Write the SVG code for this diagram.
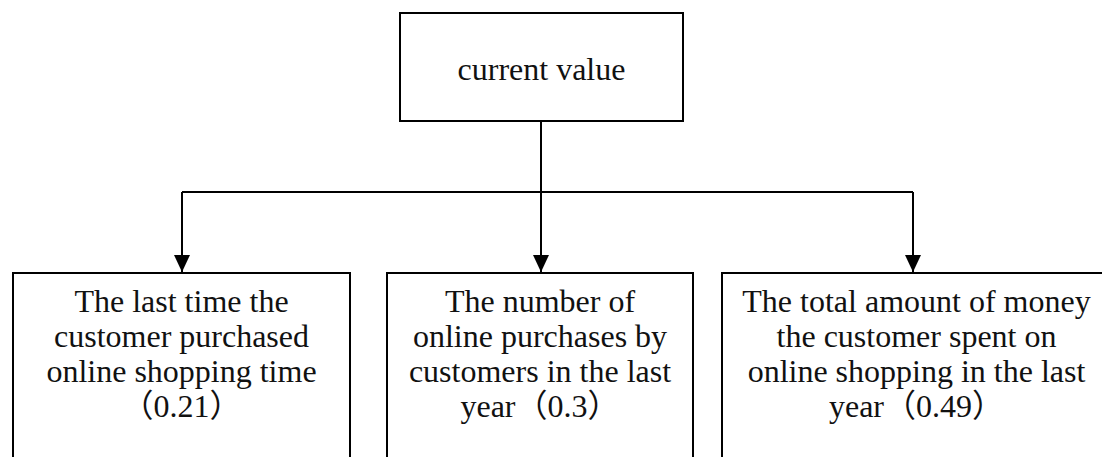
<svg xmlns="http://www.w3.org/2000/svg" width="1102" height="457" viewBox="0 0 1102 457">
<style>
.box{fill:#fff;stroke:#000;stroke-width:2}
.lbl{font-family:"Liberation Serif","Noto Sans CJK SC",serif;font-size:32px;fill:#111;text-anchor:middle}
.conn{fill:none;stroke:#000;stroke-width:2}
</style>
<defs>
<marker id="arr" markerUnits="userSpaceOnUse" viewBox="0 0 17 16" refX="17" refY="8" markerWidth="17" markerHeight="16" orient="auto">
<path d="M0,0 L17,8 L0,16 z" fill="#000"/>
</marker>
</defs>
<rect width="1102" height="457" fill="#fff"/>
<g id="connectors">
<path class="conn" d="M541,121 V192"/>
<path class="conn" d="M182,192 H913"/>
<path class="conn" d="M182,192 V272" marker-end="url(#arr)"/>
<path class="conn" d="M541,192 V272" marker-end="url(#arr)"/>
<path class="conn" d="M913,192 V272" marker-end="url(#arr)"/>
</g>
<g id="node-current-value">
<rect class="box" x="400" y="13" width="283" height="108"/>
<text class="lbl" x="541.5" y="80">current value</text>
</g>
<g id="node-recency">
<rect class="box" x="13" y="273" width="337" height="220"/>
<text class="lbl" x="181.5" y="312">The last time the</text>
<text class="lbl" x="181.5" y="347">customer purchased</text>
<text class="lbl" x="181.5" y="382">online shopping time</text>
<text class="lbl" x="181.5" y="417">（0.21）</text>
</g>
<g id="node-frequency">
<rect class="box" x="387" y="273" width="306" height="220"/>
<text class="lbl" x="540" y="312">The number of</text>
<text class="lbl" x="540" y="347">online purchases by</text>
<text class="lbl" x="540" y="382">customers in the last</text>
<text class="lbl" x="540" y="417">year（0.3）</text>
</g>
<g id="node-monetary">
<rect class="box" x="722" y="273" width="400" height="220"/>
<text class="lbl" x="916.5" y="312">The total amount of money</text>
<text class="lbl" x="916.5" y="347">the customer spent on</text>
<text class="lbl" x="916.5" y="382">online shopping in the last</text>
<text class="lbl" x="916.5" y="417">year（0.49）</text>
</g>
</svg>
